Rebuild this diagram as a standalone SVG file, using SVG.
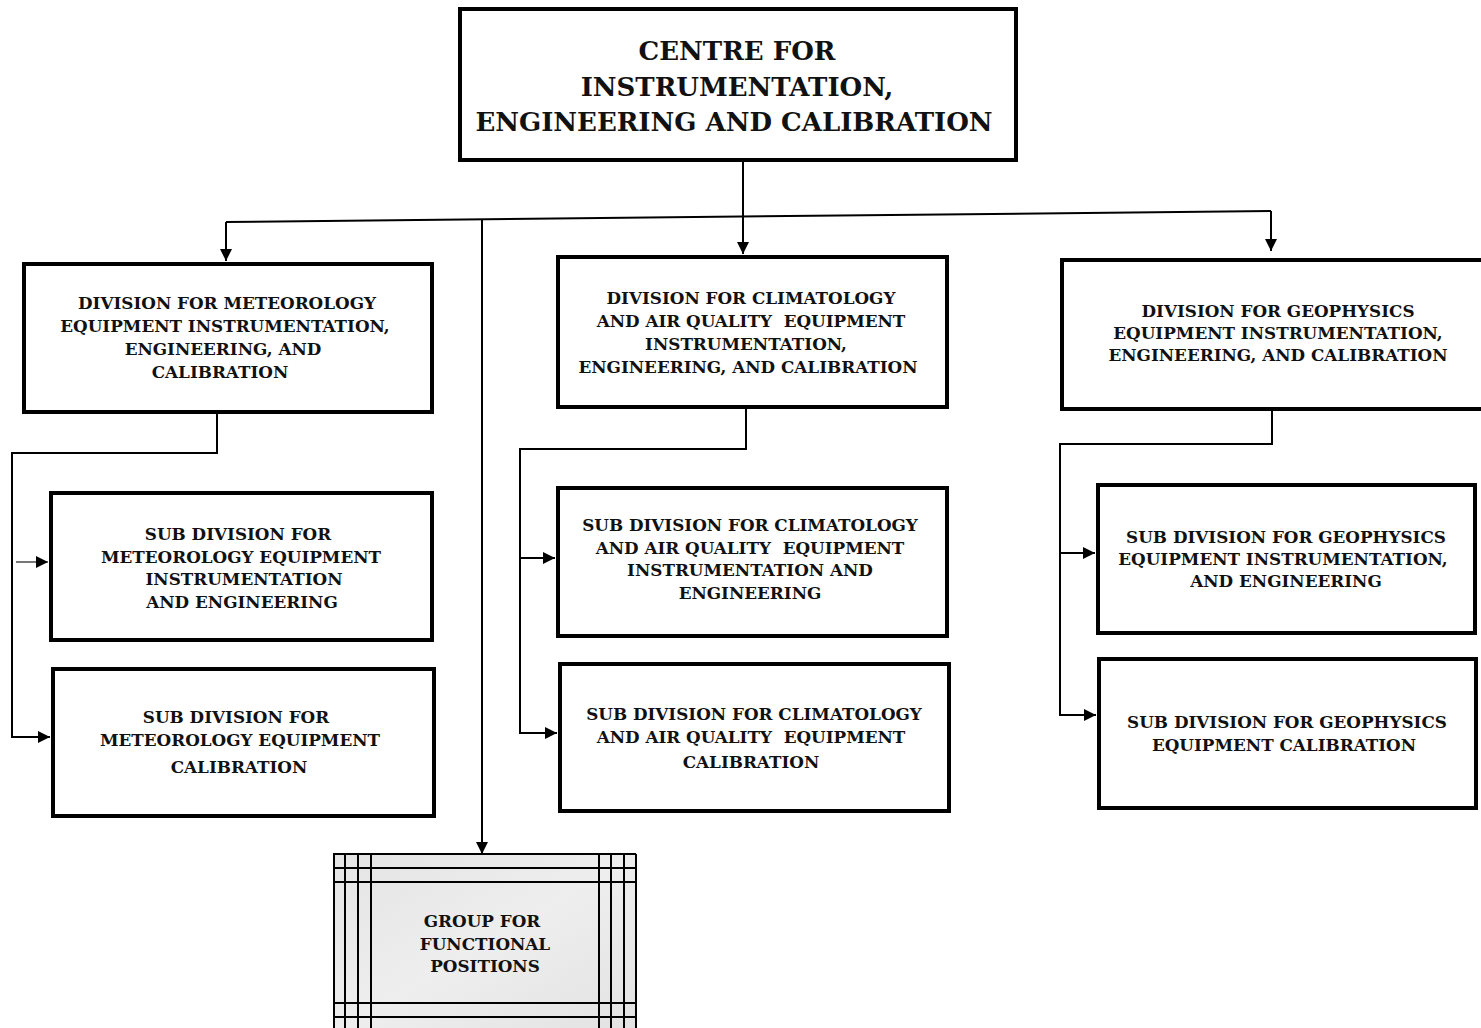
<svg xmlns="http://www.w3.org/2000/svg" width="1481" height="1028" viewBox="0 0 1481 1028">
<style>
.box{fill:#fff;stroke:#000;stroke-width:4}
.t{font-family:"DejaVu Serif","Liberation Serif",serif;font-weight:bold;fill:#111;text-anchor:middle}
.s{font-size:16.8px}
.big{font-size:26px}
.ln{fill:none;stroke:#000;stroke-width:2}
.gl{stroke:#000;stroke-width:2}
</style>
<defs>
<marker id="ah" viewBox="0 0 12 12" refX="12" refY="6" markerWidth="12" markerHeight="12" markerUnits="userSpaceOnUse" orient="auto">
<path d="M0,0 L12,6 L0,12 z" fill="#000"/>
</marker>
<linearGradient id="gg" x1="0" y1="0" x2="1" y2="1">
<stop offset="0" stop-color="#e4e4e4"/>
<stop offset="0.5" stop-color="#eeeeee"/>
<stop offset="1" stop-color="#e2e2e2"/>
</linearGradient>
</defs>
<rect width="1481" height="1028" fill="#fff"/>

<g id="connectors">
<path class="ln" d="M743,161 V254" marker-end="url(#ah)"/>
<path class="ln" d="M226,222 L1271,211"/>
<path class="ln" d="M226,222 V261" marker-end="url(#ah)"/>
<path class="ln" d="M1271,211 V251" marker-end="url(#ah)"/>
<path class="ln" d="M482,219 V854" marker-end="url(#ah)"/>
<path class="ln" d="M217,413 V453 H12 V737 H50" marker-end="url(#ah)"/>
<path d="M16,562 H48" stroke="#777" stroke-width="2" fill="none" marker-end="url(#ah)"/>
<path class="ln" d="M746,409 V449 H520 V733 H557" marker-end="url(#ah)"/>
<path class="ln" d="M520,558 H555" marker-end="url(#ah)"/>
<path class="ln" d="M1272,406 V444 H1060 V715 H1096" marker-end="url(#ah)"/>
<path class="ln" d="M1060,553 H1095" marker-end="url(#ah)"/>
</g>

<g id="centre">
<rect class="box" x="460" y="9" width="556" height="151"/>
<text class="t big" x="737" y="60">CENTRE FOR</text>
<text class="t big" x="737" y="96">INSTRUMENTATION,</text>
<text class="t big" x="734" y="131">ENGINEERING AND CALIBRATION</text>
</g>

<g id="div-met">
<rect class="box" x="24" y="264" width="408" height="148"/>
<text class="t s" x="227" y="309">DIVISION FOR METEOROLOGY</text>
<text class="t s" x="225" y="332">EQUIPMENT INSTRUMENTATION,</text>
<text class="t s" x="223" y="355">ENGINEERING, AND</text>
<text class="t s" x="220" y="378">CALIBRATION</text>
</g>

<g id="div-clim">
<rect class="box" x="558" y="257" width="389" height="150"/>
<text class="t s" x="751" y="304">DIVISION FOR CLIMATOLOGY</text>
<text class="t s" x="751" y="327" xml:space="preserve">AND AIR QUALITY  EQUIPMENT</text>
<text class="t s" x="746" y="350">INSTRUMENTATION,</text>
<text class="t s" x="748" y="373">ENGINEERING, AND CALIBRATION</text>
</g>

<g id="div-geo">
<rect class="box" x="1062" y="260" width="425" height="149"/>
<text class="t s" x="1278" y="317">DIVISION FOR GEOPHYSICS</text>
<text class="t s" x="1278" y="339">EQUIPMENT INSTRUMENTATION,</text>
<text class="t s" x="1278" y="361">ENGINEERING, AND CALIBRATION</text>
</g>

<g id="sub-met-ie">
<rect class="box" x="51" y="493" width="381" height="147"/>
<text class="t s" x="238" y="540">SUB DIVISION FOR</text>
<text class="t s" x="241" y="563">METEOROLOGY EQUIPMENT</text>
<text class="t s" x="244" y="585">INSTRUMENTATION</text>
<text class="t s" x="242" y="608">AND ENGINEERING</text>
</g>

<g id="sub-met-cal">
<rect class="box" x="53" y="669" width="381" height="147"/>
<text class="t s" x="236" y="723">SUB DIVISION FOR</text>
<text class="t s" x="240" y="746">METEOROLOGY EQUIPMENT</text>
<text class="t s" x="239" y="773">CALIBRATION</text>
</g>

<g id="sub-clim-ie">
<rect class="box" x="558" y="488" width="389" height="148"/>
<text class="t s" x="750" y="531">SUB DIVISION FOR CLIMATOLOGY</text>
<text class="t s" x="750" y="554" xml:space="preserve">AND AIR QUALITY  EQUIPMENT</text>
<text class="t s" x="750" y="576">INSTRUMENTATION AND</text>
<text class="t s" x="750" y="599">ENGINEERING</text>
</g>

<g id="sub-clim-cal">
<rect class="box" x="560" y="664" width="389" height="147"/>
<text class="t s" x="754" y="720">SUB DIVISION FOR CLIMATOLOGY</text>
<text class="t s" x="751" y="743" xml:space="preserve">AND AIR QUALITY  EQUIPMENT</text>
<text class="t s" x="751" y="768">CALIBRATION</text>
</g>

<g id="sub-geo-ie">
<rect class="box" x="1098" y="485" width="377" height="148"/>
<text class="t s" x="1286" y="543">SUB DIVISION FOR GEOPHYSICS</text>
<text class="t s" x="1283" y="565">EQUIPMENT INSTRUMENTATION,</text>
<text class="t s" x="1286" y="587">AND ENGINEERING</text>
</g>

<g id="sub-geo-cal">
<rect class="box" x="1099" y="659" width="377" height="149"/>
<text class="t s" x="1287" y="728">SUB DIVISION FOR GEOPHYSICS</text>
<text class="t s" x="1284" y="751">EQUIPMENT CALIBRATION</text>
</g>

<g id="group-functional">
<rect x="333" y="854" width="303" height="180" fill="url(#gg)" stroke="none"/>
<line class="gl" x1="333" y1="854" x2="636" y2="854"/>
<line class="gl" x1="333" y1="868" x2="636" y2="868"/>
<line class="gl" x1="333" y1="882" x2="636" y2="882"/>
<line class="gl" x1="333" y1="1003" x2="636" y2="1003"/>
<line class="gl" x1="333" y1="1017" x2="636" y2="1017"/>
<line class="gl" x1="334" y1="854" x2="334" y2="1028"/>
<line class="gl" x1="345" y1="854" x2="345" y2="1028"/>
<line class="gl" x1="358" y1="854" x2="358" y2="1028"/>
<line class="gl" x1="371" y1="854" x2="371" y2="1028"/>
<line class="gl" x1="599" y1="854" x2="599" y2="1028"/>
<line class="gl" x1="611" y1="854" x2="611" y2="1028"/>
<line class="gl" x1="624" y1="854" x2="624" y2="1028"/>
<line class="gl" x1="636" y1="854" x2="636" y2="1028"/>
<text class="t s" x="482" y="927">GROUP FOR</text>
<text class="t s" x="485" y="950">FUNCTIONAL</text>
<text class="t s" x="485" y="972">POSITIONS</text>
</g>
</svg>
